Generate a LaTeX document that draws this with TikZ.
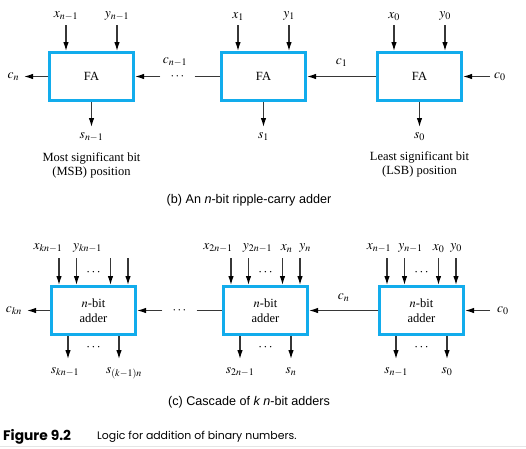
\documentclass[tikz,border=0pt]{standalone}
\usepackage{mathptmx}
\usepackage[no-math]{fontspec}
\setmainfont{Liberation Serif}
\setsansfont{Liberation Sans}
\newfontfamily\figfont{Poppins}
\usetikzlibrary{arrows.meta, positioning, calc}
\definecolor{facyan}{RGB}{18,172,236}
\definecolor{wirecol}{RGB}{55,55,55}

\begin{document}
\begin{tikzpicture}[
  x=1pt, y=1pt,
  fa/.style={draw=facyan, line width=2.8pt, minimum width=84.2pt, minimum height=48.2pt, inner sep=0pt, align=center, font=\fontsize{12.5}{15}\selectfont},
  arr/.style={-{Latex[length=9pt,width=5.5pt,color=black]}, line width=1.2pt, draw=wirecol},
  link/.style={line width=1.2pt, draw=wirecol},
  lbl/.style={inner sep=1pt, font=\fontsize{13.5}{15}\selectfont},
  txt/.style={inner sep=1pt, font=\fontsize{12.5}{14}\selectfont},
  gap/.style={minimum width=34pt, inner sep=0pt, font=\fontsize{13}{14}\selectfont},
  capt/.style={font=\sffamily\fontsize{12.6}{15}\selectfont}
]
\path[use as bounding box] (0,0) rectangle (526,-448);

% (b) ripple-carry adder
\node[fa] (fa2) at (91.5,-76.5) {FA};
\node[fa, right=85pt of fa2] (fa1) {FA};
\node[fa, right=69pt of fa1] (fa0) {FA};

\coordinate (x2) at ([xshift=-25.5pt,yshift=26pt]fa2.north);
\coordinate (y2) at ([xshift=25.5pt,yshift=26pt]fa2.north);
\coordinate (x1) at ([xshift=-25.5pt,yshift=26pt]fa1.north);
\coordinate (y1) at ([xshift=25.5pt,yshift=26pt]fa1.north);
\coordinate (x0) at ([xshift=-25.5pt,yshift=26pt]fa0.north);
\coordinate (y0) at ([xshift=25.5pt,yshift=26pt]fa0.north);
\draw[arr] (x2) node[lbl, above=3pt] (x2l) {$x_{n-1}$} -- (x2 |- fa2.north);
\draw[arr] (y2) node[lbl, above=3pt] (y2l) {$y_{n-1}$} -- (y2 |- fa2.north);
\draw[arr] (x1) node[lbl, above=3pt] (x1l) {$x_1$} -- (x1 |- fa1.north);
\draw[arr] (y1) node[lbl, above=3pt] (y1l) {$y_1$} -- (y1 |- fa1.north);
\draw[arr] (x0) node[lbl, above=3pt] (x0l) {$x_0$} -- (x0 |- fa0.north);
\draw[arr] (y0) node[lbl, above=3pt] (y0l) {$y_0$} -- (y0 |- fa0.north);

\coordinate (s2) at ([yshift=-25pt]fa2.south);
\coordinate (s1) at ([yshift=-25pt]fa1.south);
\coordinate (s0) at ([yshift=-25pt]fa0.south);
\draw[arr] (fa2.south) -- (s2) node[lbl, below=4pt] (s2l) {$s_{n-1}$};
\draw[arr] (fa1.south) -- (s1) node[lbl, below=4pt] (s1l) {$s_1$};
\draw[arr] (fa0.south) -- (s0) node[lbl, below=4pt] (s0l) {$s_0$};

\node[lbl, outer sep=4pt, left=24pt of fa2] (cnb) {$c_n$};
\draw[arr] (fa2.west) -- (cnb.east);
\node[gap] (dotb) at ($(fa2.east)!0.5!(fa1.west)$) {$\cdots$};
\draw[arr] (dotb.west) -- (fa2.east);
\draw[link] (dotb.east) -- (fa1.west);
\node[lbl, above=9pt of dotb.center, xshift=-2.5pt] (cn1b) {$c_{n-1}$};
\draw[arr] (fa0.west) -- (fa1.east) node[lbl, midway, above=8pt] (c1b) {$c_1$};
\node[lbl, outer sep=3pt, right=27pt of fa0] (c0b) {$c_0$};
\draw[arr] (c0b.west) -- (fa0.east);

\node[txt, below=8pt of s2l, align=center] (msb) {Most significant bit\\(MSB) position};
\node[txt, below=8pt of s0l, align=center] (lsb) {Least significant bit\\(LSB) position};
\node[capt] (capb) at (249,-200) {(b) An \textit{n}-bit ripple-carry adder};

% (c) cascade of n-bit adders
\node[fa, below=183pt of fa2, xshift=2pt] (ad2) {$n$-bit\\adder};
\node[fa, right=85pt of ad2] (ad1) {$n$-bit\\adder};
\node[fa, right=69pt of ad1] (ad0) {$n$-bit\\adder};

\coordinate (i2a) at ([xshift=-34.5pt,yshift=27pt]ad2.north);
\coordinate (i2b) at ([xshift=-17pt,yshift=27pt]ad2.north);
\coordinate (i2c) at ([xshift=17pt,yshift=27pt]ad2.north);
\coordinate (i2d) at ([xshift=34.5pt,yshift=27pt]ad2.north);
\draw[arr] (i2a) node[lbl, above=4pt, xshift=-11pt] (i2al) {$x_{kn-1}$} -- (i2a |- ad2.north);
\draw[arr] (i2b) node[lbl, above=4pt, xshift=11pt] (i2bl) {$y_{kn-1}$} -- (i2b |- ad2.north);
\draw[arr] (i2c) -- (i2c |- ad2.north);
\draw[arr] (i2d) -- (i2d |- ad2.north);

\coordinate (i1a) at ([xshift=-34.5pt,yshift=27pt]ad1.north);
\coordinate (i1b) at ([xshift=-17pt,yshift=27pt]ad1.north);
\coordinate (i1c) at ([xshift=17pt,yshift=27pt]ad1.north);
\coordinate (i1d) at ([xshift=34.5pt,yshift=27pt]ad1.north);
\draw[arr] (i1a) node[lbl, above=4pt, xshift=-13pt] (i1al) {$x_{2n-1}$} -- (i1a |- ad1.north);
\draw[arr] (i1b) node[lbl, above=4pt, xshift=9pt] (i1bl) {$y_{2n-1}$} -- (i1b |- ad1.north);
\draw[arr] (i1c) node[lbl, above=4pt, xshift=4pt] (i1cl) {$x_n$} -- (i1c |- ad1.north);
\draw[arr] (i1d) node[lbl, above=4pt, xshift=5pt] (i1dl) {$y_n$} -- (i1d |- ad1.north);

\coordinate (i0a) at ([xshift=-34.5pt,yshift=27pt]ad0.north);
\coordinate (i0b) at ([xshift=-17pt,yshift=27pt]ad0.north);
\coordinate (i0c) at ([xshift=17pt,yshift=27pt]ad0.north);
\coordinate (i0d) at ([xshift=34.5pt,yshift=27pt]ad0.north);
\draw[arr] (i0a) node[lbl, above=4pt, xshift=-8pt] (i0al) {$x_{n-1}$} -- (i0a |- ad0.north);
\draw[arr] (i0b) node[lbl, above=4pt, xshift=6pt] (i0bl) {$y_{n-1}$} -- (i0b |- ad0.north);
\draw[arr] (i0c) node[lbl, above=4pt] (i0cl) {$x_0$} -- (i0c |- ad0.north);
\draw[arr] (i0d) node[lbl, above=4pt] (i0dl) {$y_0$} -- (i0d |- ad0.north);

\node[lbl] (d2i) at ([yshift=12pt]ad2.north) {$\cdots$};
\node[lbl] (d1i) at ([yshift=12pt]ad1.north) {$\cdots$};
\node[lbl] (d0i) at ([yshift=12pt]ad0.north) {$\cdots$};
\node[lbl] (d2o) at ([yshift=-12pt]ad2.south) {$\cdots$};
\node[lbl] (d1o) at ([yshift=-12pt]ad1.south) {$\cdots$};
\node[lbl] (d0o) at ([yshift=-12pt]ad0.south) {$\cdots$};

\coordinate (o2a) at ([xshift=-25.5pt,yshift=-23pt]ad2.south);
\coordinate (o2b) at ([xshift=25.5pt,yshift=-23pt]ad2.south);
\coordinate (o1a) at ([xshift=-25.5pt,yshift=-23pt]ad1.south);
\coordinate (o1b) at ([xshift=25.5pt,yshift=-23pt]ad1.south);
\coordinate (o0a) at ([xshift=-25.5pt,yshift=-23pt]ad0.south);
\coordinate (o0b) at ([xshift=25.5pt,yshift=-23pt]ad0.south);
\draw[arr] (o2a |- ad2.south) -- (o2a) node[lbl, below=7pt, xshift=-3pt] (o2al) {$s_{kn-1}$};
\draw[arr] (o2b |- ad2.south) -- (o2b) node[lbl, below=7pt, xshift=5pt] (o2bl) {$s_{(k-1)n}$};
\draw[arr] (o1a |- ad1.south) -- (o1a) node[lbl, below=7pt] (o1al) {$s_{2n-1}$};
\draw[arr] (o1b |- ad1.south) -- (o1b) node[lbl, below=7pt] (o1bl) {$s_n$};
\draw[arr] (o0a |- ad0.south) -- (o0a) node[lbl, below=7pt] (o0al) {$s_{n-1}$};
\draw[arr] (o0b |- ad0.south) -- (o0b) node[lbl, below=7pt] (o0bl) {$s_0$};

\node[lbl, outer sep=4pt, left=23pt of ad2] (ckn) {$c_{kn}$};
\draw[arr] (ad2.west) -- (ckn.east);
\node[gap] (dotc) at ($(ad2.east)!0.5!(ad1.west)$) {$\cdots$};
\draw[arr] (dotc.west) -- (ad2.east);
\draw[link] (dotc.east) -- (ad1.west);
\draw[arr] (ad0.west) -- (ad1.east) node[lbl, midway, above=7pt] (cnc) {$c_n$};
\node[lbl, outer sep=6pt, right=25pt of ad0] (c0c) {$c_0$};
\draw[arr] (c0c.west) -- (ad0.east);

\node[capt] (capc) at (249,-402) {(c) Cascade of \textit{k n}-bit adders};

\node[anchor=west, inner sep=0pt, font=\figfont\bfseries\fontsize{13.8}{16}\selectfont] (fignum) at (3,-437) {Figure 9.2};
\node[anchor=west, inner sep=0pt, font=\figfont\fontsize{10.9}{13}\selectfont] (figtxt) at (97,-437) {Logic for addition of binary numbers.};
\draw[gray!20, line width=1pt] (0,-446.5) -- (526,-446.5);
\end{tikzpicture}
\end{document}
